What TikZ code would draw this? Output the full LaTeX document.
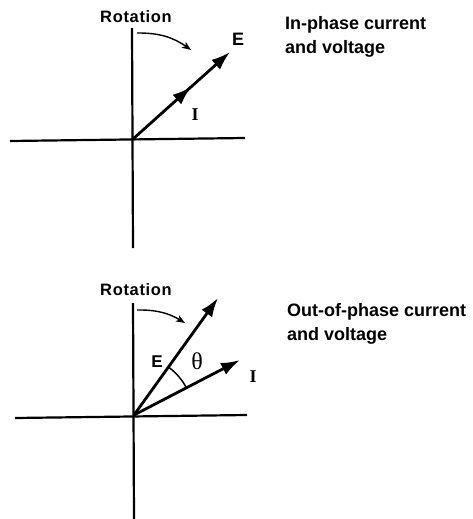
\documentclass[tikz,border=0pt]{standalone}
\usepackage{fontspec}
\setmainfont{Liberation Sans}
\newfontfamily\seriffont{Liberation Serif}
\newfontfamily\labfont[LetterSpace=4]{Liberation Sans}
\usetikzlibrary{arrows.meta,decorations.markings,calc}
\tikzset{
  axis/.style={line width=2.2pt},
  vec/.style={line width=2.8pt,-{Latex[length=19pt,width=13pt]}},
  midarrow/.style={decoration={markings,mark=at position #1 with {\arrow{Latex[length=19pt,width=13pt]}}},postaction={decorate}},
  rot/.style={line width=1.4pt,-{Stealth[length=9pt,width=7pt,inset=2.5pt]}},
  rotlabel/.style={font=\labfont\bfseries\fontsize{16.5}{18}\selectfont,anchor=base},
  sidetext/.style={font=\bfseries\fontsize{18}{23.5}\selectfont,align=left,anchor=base west,inner sep=0pt},
  sanslab/.style={font=\bfseries\fontsize{#1}{#1}\selectfont},
  seriflab/.style={font=\seriffont\bfseries\fontsize{#1}{#1}\selectfont}
}
\begin{document}
\begin{tikzpicture}[x=1pt,y=-1pt]
\useasboundingbox (0,0) rectangle (472,519);
% ---------- top diagram ----------
\coordinate (o1) at (133,139);
\coordinate (t1) at (132,28);
\coordinate (b1) at (133,248);
\coordinate (l1) at (10,141);
\coordinate (r1) at (245,138);
\coordinate (e1) at (230,52);
\draw[axis] (t1) -- (b1);
\draw[axis] (l1) -- (r1);
\draw[vec,midarrow=0.6] (o1) -- (e1);
\coordinate (rs1) at (137,33);
\coordinate (re1) at (191,50);
\draw[rot] (rs1) to[bend left=18] (re1);
\node[rotlabel] (rotA) at (136,22.5) {Rotation};
\node[sanslab=18] (E1) at (238,39) {E};
\node[seriflab=18] (I1) at (195,115) {I};
\node[sidetext] (txt1) at (285,53) {In-phase current\\and voltage};
% ---------- bottom diagram ----------
\coordinate (o2) at (134,415);
\coordinate (t2) at (133,303);
\coordinate (b2) at (134,519);
\coordinate (l2) at (15,418);
\coordinate (r2) at (247,415);
\coordinate (e2) at (218,298);
\coordinate (i2) at (240,360);
\draw[axis] (t2) -- (b2);
\draw[axis] (l2) -- (r2);
\draw[vec] (o2) -- (e2);
\draw[vec] (o2) -- (i2);
\draw[line width=1.5pt] ($(o2)+(-54:59)$) arc[start angle=-54,end angle=-27,radius=59];
\coordinate (rs2) at (137,310);
\coordinate (re2) at (185,323);
\draw[rot] (rs2) to[bend left=16] (re2);
\node[rotlabel] (rotB) at (136,295) {Rotation};
\node[sanslab=17] (E2) at (157,362) {E};
\node[font=\seriffont\fontsize{24}{24}\selectfont] (th) at (197,361) {θ};
\node[seriflab=18] (I2) at (253,377) {I};
\node[sidetext] (txt2) at (287,340) {Out-of-phase current\\and voltage};
\end{tikzpicture}
\end{document}
